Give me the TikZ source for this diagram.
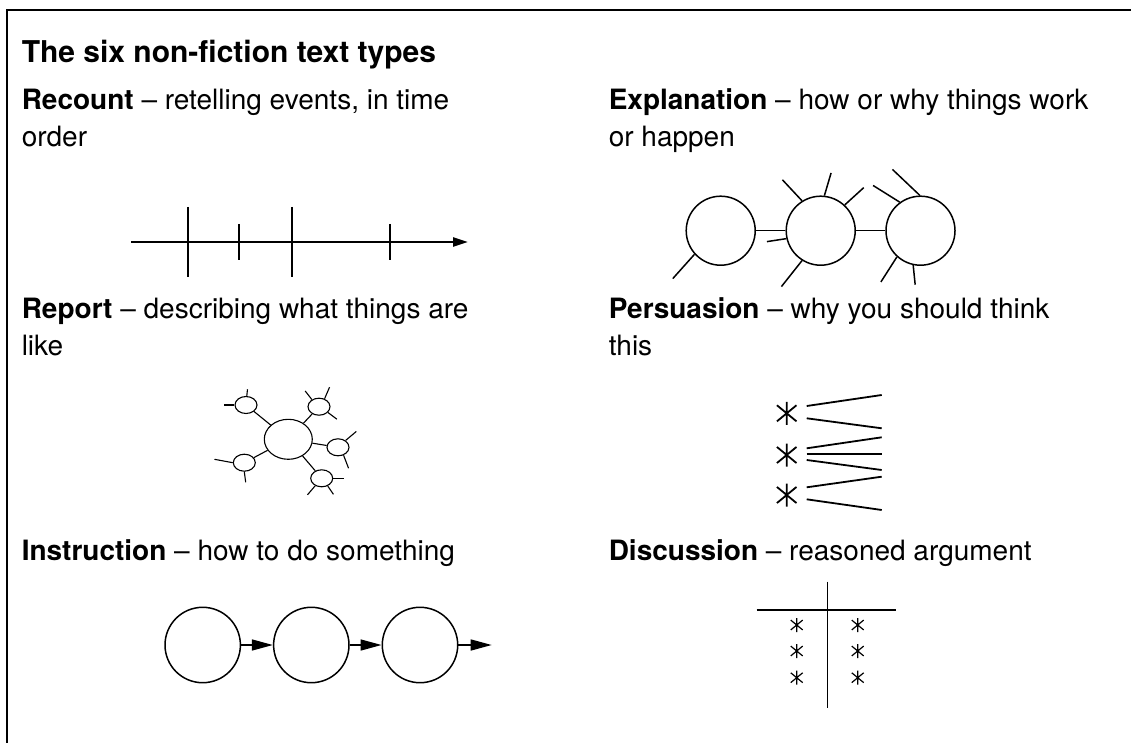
\documentclass[tikz,border=0pt]{standalone}
\usepackage{fontspec}
\setmainfont{TeX Gyre Heros}
\usepackage{tikz}
\usetikzlibrary{arrows.meta}
\usetikzlibrary{positioning,calc}
\usetikzlibrary{shapes.geometric}

\tikzset{
  astk/.pic={
    \draw[pic actions] (0,-1) -- (0,1)
      (-0.85,-0.7) -- (0.85,0.7) (-0.85,0.7) -- (0.85,-0.7);}
}

\begin{document}
\begin{tikzpicture}[x=1pt,y=-1pt,line width=1.5pt,
    head/.style={anchor=base west,inner sep=0pt,align=left,
      font=\fontsize{28}{37}\selectfont},
    bubble/.style={circle,draw,inner sep=0pt},
    blob/.style={ellipse,draw,inner sep=0pt,line width=1.1pt}]
  \useasboundingbox (0,0) rectangle (1131,743);
  % frame
  \draw[line width=1.8pt] (7,743) -- (7,10) -- (1131,10);
  \node[anchor=base west,inner sep=0pt,font=\bfseries\fontsize{30}{36}\selectfont]
    (title) at (21,63) {The six non-fiction text types};
  % the six headings (base = last line)
  \node[head] (recount) at (21,147) {\textbf{Recount} -- retelling events, in time\\order};
  \node[head] (explain) at (608,147) {\textbf{Explanation} -- how or why things work\\or happen};
  \node[head] (report) at (21,355) {\textbf{Report} -- describing what things are\\like};
  \node[head] (persuade) at (608,355) {\textbf{Persuasion} -- why you should think\\this};
  \node[head] (instruct) at (21,560) {\textbf{Instruction} -- how to do something};
  \node[head] (discuss) at (608,560) {\textbf{Discussion} -- reasoned argument};

  % time line
  \coordinate (tstart) at (131,242);
  \coordinate (tend) at (468,242);
  \draw[line width=2.4pt,-{Triangle[length=15pt,width=9pt]}] (tstart) -- (tend);
  \foreach \x/\h in {188/35, 239/18, 292/35, 390/18}{
    \draw[line width=2.4pt] (\x,242-\h) -- (\x,242+\h);}

  % explanation chain
  \node[bubble,minimum size=69pt] (e1) at (720.7,230.7) {};
  \node[bubble,minimum size=69pt] (e2) at (820.7,230.7) {};
  \node[bubble,minimum size=69pt] (e3) at (920.5,230.7) {};
  \draw (e1) -- (e2);
  \draw (e2) -- (e3);
  \foreach \n/\a/\dx/\dy in {e1/222/-21.7/24.3, e2/122/-19.6/-21, e2/84/6.7/-22.7,
      e2/47/19/-17.3, e2/193/-19.4/3, e2/238/-20.6/26, e3/126/-26.7/-16.7,
      e3/91/-27.4/-26, e3/228/-16/25, e3/258/2/19.5}{
    \draw (\n.\a) -- ++(\dx,\dy);}

  % report web
  \node[blob,minimum width=48pt,minimum height=40pt] (rep) at (288.3,439.3) {};
  \foreach \n/\x/\y in {s1/246/405, s2/319/406.7, s3/338/447.3,
      s4/244.3/462.7, s5/321.7/478.3}{
    \node[blob,minimum width=22pt,minimum height=17pt] (\n) at (\x,\y) {};
    \draw[line width=1.1pt] (rep) -- (\n);}
  \foreach \n/\a/\dx/\dy in {s1/85/0.7/-6.7, s1/180/-10.7/0, s2/135/-6.7/-8.6,
      s2/55/5/-11.6, s2/327/9/6.7, s3/42/10.7/-9, s3/305/5/13,
      s4/180/-18.3/-3.4, s4/270/1.4/10.6, s5/0/11/0, s5/229/-7.7/9,
      s5/308/5.7/8.3}{
    \draw[line width=1.1pt] (\n.\a) -- ++(\dx,\dy);}

  % persuasion
  \foreach \y in {413.3, 455, 495}{
    \pic[line width=1.8pt,scale=11.5] at (786.7,\y) {astk};}
  \foreach \ya/\yb in {406/395, 418.3/428.3, 448.3/437.3, 454/454,
      460/470, 487.3/476.7, 499.3/510}{
    \draw[line width=1.8pt] (806.7,\ya) -- (881.7,\yb);}

  % instruction steps
  \node[bubble,minimum size=75.4pt] (i1) at (202.7,645) {};
  \node[bubble,minimum size=75.4pt] (i2) at (311.3,645) {};
  \node[bubble,minimum size=75.4pt] (i3) at (420,645) {};
  \coordinate (iend) at (491.7,645);
  \foreach \a/\b in {i1/i2, i2/i3, i3/iend}{
    \draw[-{Triangle[length=21pt,width=11pt]}] (\a) -- (\b);}

  % discussion table
  \draw (827.7,581.7) -- (827.7,708.3);
  \draw (756.7,610) -- (896,610);
  \foreach \x in {796.7, 857.7}{
    \foreach \y in {625, 651, 677.7}{
      \pic[line width=1.2pt,scale=7] at (\x,\y) {astk};}}
\end{tikzpicture}
\end{document}
